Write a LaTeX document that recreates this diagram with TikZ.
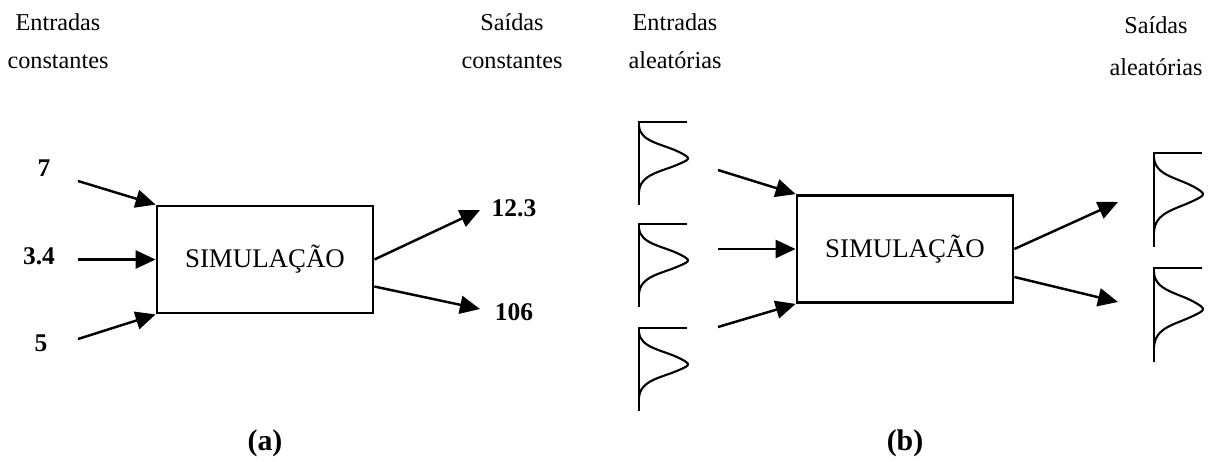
\documentclass[tikz,border=0pt]{standalone}
\usepackage{fontspec}
\setmainfont{Liberation Serif}
\usetikzlibrary{arrows.meta, calc}
\tikzset{
  simbox/.style={draw, line width=1.6pt, minimum width=4.32cm, minimum height=2.14cm, inner sep=0pt, font=\fontsize{15.3}{18}\selectfont},
  lbl/.style={align=center, inner sep=0pt, font=\fontsize{13.8}{21.6}\selectfont},
  num/.style={inner sep=0pt, font=\fontsize{14.5}{16}\selectfont\bfseries},
  capt/.style={inner sep=0pt, font=\fontsize{17}{20}\selectfont\bfseries},
  pics/dist/.style={code={
    \draw[line width=1.2pt] (48,0) -- (0,0) -- (0,83);
    \draw[line width=1.2pt] (0,4) .. controls (1,20) and (24,22) .. (40,30) .. controls (52,36) and (52,37) .. (40,42) .. controls (22,50) and (1,52) .. (0,70);
  }}
}
\begin{document}
\begin{tikzpicture}[x=0.02cm, y=-0.02cm, >={Triangle[length=0.4cm, width=0.36cm]}, line width=1.4pt]
\useasboundingbox (0,0) rectangle (1211,461);
% (a) entradas e saidas constantes
\node[lbl] (ina) at (58,41) {Entradas\\constantes};
\node[lbl] (outa) at (512,41) {Saídas\\constantes};
\node[simbox] (simA) at (265,259.5) {SIMULAÇÃO};
\node[num] (v7) at (44,168) {7};
\node[num] (v34) at (39,256) {3.4};
\node[num] (v5) at (41,343) {5};
\node[num] (v123) at (514,208) {12.3};
\node[num] (v106) at (514,312) {106};
\coordinate (a1) at (78,181);
\coordinate (a2) at (78,259.5);
\coordinate (a3) at (78,339);
\coordinate (ao1) at (480,210);
\coordinate (ao2) at (480,309);
\draw[->] (a1) -- (simA.north west);
\draw[->] (a2) -- (simA.west);
\draw[->] (a3) -- (simA.south west);
\draw[->] (simA.east) -- (ao1);
\draw[->] ($(simA.east)+(0,27)$) -- (ao2);
\node[capt] (capa) at (265,443) {(a)};
% (b) entradas e saidas aleatorias
\node[lbl] (inb) at (675,41) {Entradas\\aleatórias};
\node[lbl] (outb) at (1156,46) {Saídas\\[2pt]aleatórias};
\node[simbox] (simB) at (905,249) {SIMULAÇÃO};
\pic at (639,122) {dist};
\pic at (639,224) {dist};
\pic at (639,328) {dist};
\pic[yscale=1.13] at (1154,153) {dist};
\pic[yscale=1.13] at (1154,268) {dist};
\coordinate (b1) at (718,170);
\coordinate (b2) at (718,249);
\coordinate (b3) at (718,327);
\coordinate (bo1) at (1118,202);
\coordinate (bo2) at (1118,302);
\draw[->] (b1) -- (simB.north west);
\draw[->] (b2) -- (simB.west);
\draw[->] (b3) -- (simB.south west);
\draw[->] (simB.east) -- (bo1);
\draw[->] ($(simB.east)+(0,28)$) -- (bo2);
\node[capt] (capb) at (905,443) {(b)};
\end{tikzpicture}
\end{document}
